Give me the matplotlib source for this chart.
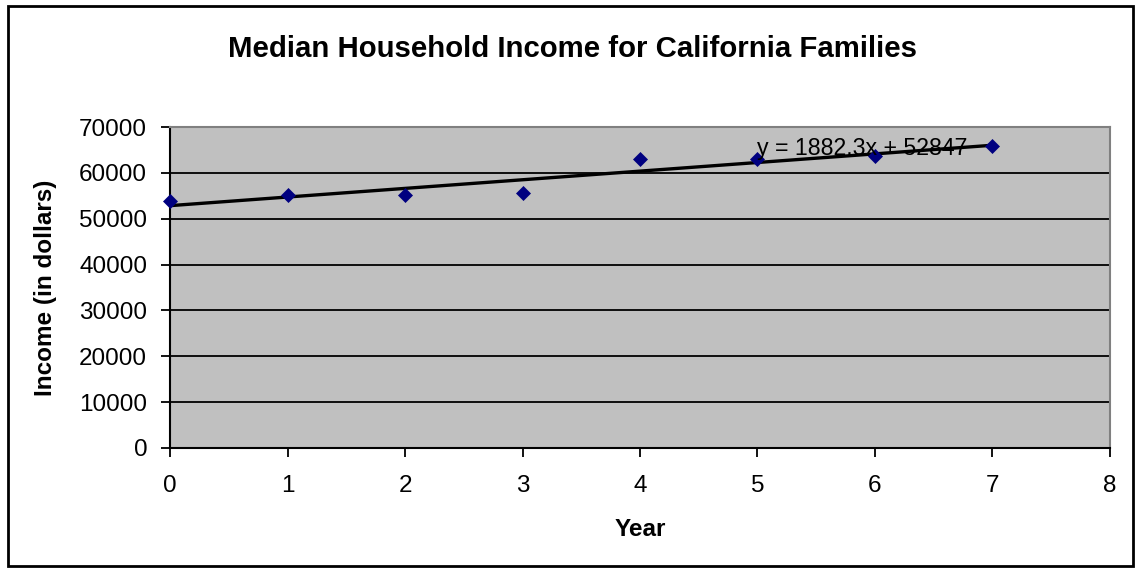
import numpy as np
import matplotlib.pyplot as plt
from matplotlib.patches import Rectangle

plt.rcParams['font.family'] = ['Liberation Sans', 'DejaVu Sans']

# Datos
years = [0, 1, 2, 3, 4, 5, 6, 7]
income = [53800, 55200, 55200, 55600, 63000, 63000, 63700, 65900]

# Linea de tendencia (ecuacion mostrada en el grafico)
slope = 1882.3
intercept = 52847

fig = plt.figure(figsize=(11.39, 5.69), dpi=100)
ax = fig.add_axes([0.1493, 0.2127, 0.8252, 0.5641])
ax.set_facecolor('#C0C0C0')

ax.set_xlim(0, 8)
ax.set_ylim(0, 70000)
ax.set_xticks(range(0, 9))
ax.set_yticks(range(0, 70001, 10000))

for y in range(10000, 70001, 10000):
    ax.axhline(y, color='black', lw=1.3, zorder=1)

x_fit = np.array([years[0], years[-1]])
ax.plot(x_fit, slope * x_fit + intercept, color='black', lw=2.4, zorder=3)
ax.plot(years, income, linestyle='none', marker='D', ms=7.3, mew=0.5,
        color='#000080', zorder=4, clip_on=False)

ax.text(5.0, 65300, f'y = {slope}x + {intercept}', fontsize=16.7, ha='left',
        va='center', zorder=5)

for side in ['top', 'right']:
    ax.spines[side].set_color('#808080')
    ax.spines[side].set_linewidth(1.5)
for side in ['left', 'bottom']:
    ax.spines[side].set_color('black')
    ax.spines[side].set_linewidth(1.5)

ax.tick_params(axis='both', direction='out', length=6.5, width=1.3,
               labelsize=17.5)
ax.tick_params(axis='y', pad=10)
ax.tick_params(axis='x', pad=13)
ax.set_xlabel('Year', fontsize=17.5, fontweight='bold', labelpad=15)
ax.set_ylabel('Income (in dollars)', fontsize=17.5, fontweight='bold', labelpad=16)

fig.text(0.503, 0.914, 'Median Household Income for California Families',
         fontsize=21.2, fontweight='bold', ha='center', va='center')

fig.patches.append(Rectangle((0.007, 0.005), 0.988, 0.985, transform=fig.transFigure,
                             fill=False, edgecolor='black', lw=2))

fig.savefig('out.png', dpi=100)
